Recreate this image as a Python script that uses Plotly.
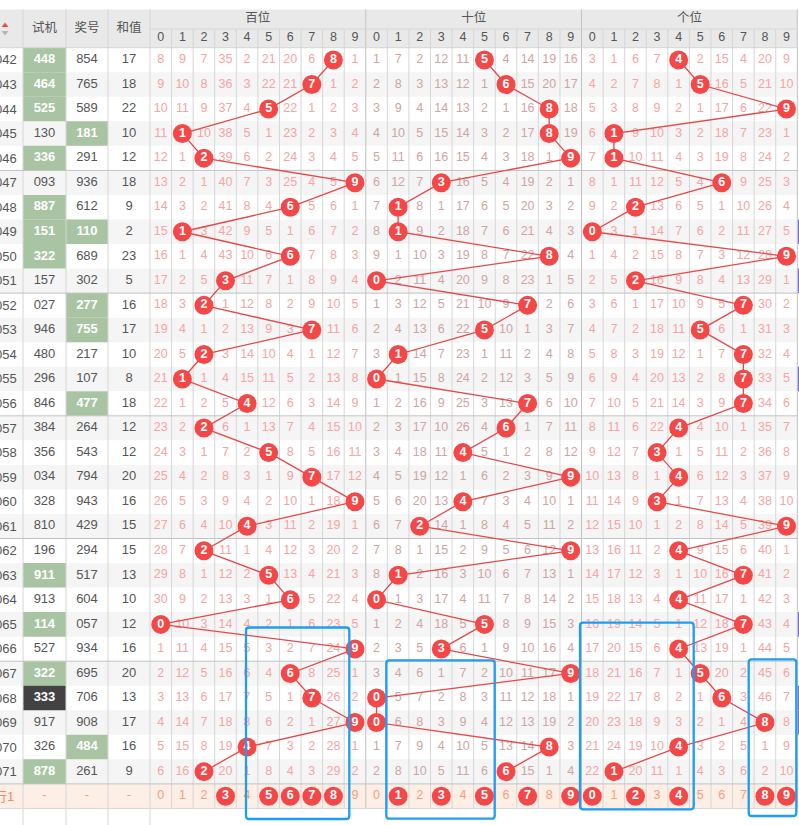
import plotly.graph_objects as go

# ---------------- data ----------------
periods = ["2025042", "2025043", "2025044", "2025045", "2025046", "2025047", "2025048", "2025049", "2025050", "2025051",
           "2025052", "2025053", "2025054", "2025055", "2025056", "2025057", "2025058", "2025059", "2025060", "2025061",
           "2025062", "2025063", "2025064", "2025065", "2025066", "2025067", "2025068", "2025069", "2025070", "2025071"]
shiji = ["448", "464", "525", "130", "336", "093", "887", "151", "322", "157",
         "027", "946", "480", "296", "846", "384", "356", "034", "328", "810",
         "196", "911", "913", "114", "527", "322", "333", "917", "326", "878"]
jianghao = ["854", "765", "589", "181", "291", "936", "612", "110", "689", "302",
            "277", "755", "217", "107", "477", "264", "543", "794", "943", "429",
            "294", "517", "604", "057", "934", "695", "706", "908", "484", "261"]
hezhi = [17, 18, 22, 10, 12, 18, 9, 2, 23, 5,
         16, 17, 10, 8, 18, 12, 12, 20, 16, 15,
         15, 13, 10, 12, 16, 20, 13, 17, 16, 9]
# g = 组三 highlight, d = 豹子 highlight
shiji_mark = ["g", "g", "g", "", "g", "", "g", "g", "g", "",
              "", "", "", "", "", "", "", "", "", "",
              "", "g", "", "g", "", "g", "d", "", "", "g"]
jiang_mark = ["", "", "", "g", "", "", "", "g", "", "",
              "g", "g", "", "", "g", "", "", "", "", "",
              "", "", "", "", "", "", "", "", "g", ""]

# omission values per row (0 = drawn this period)
bai_rows = [
    "8 9 7 35 2 21 20 6 0 1", "9 10 8 36 3 22 21 0 1 2", "10 11 9 37 4 0 22 1 2 3",
    "11 0 10 38 5 1 23 2 3 4", "12 1 0 39 6 2 24 3 4 5", "13 2 1 40 7 3 25 4 5 0",
    "14 3 2 41 8 4 0 5 6 1", "15 0 3 42 9 5 1 6 7 2", "16 1 4 43 10 6 0 7 8 3",
    "17 2 5 0 11 7 1 8 9 4", "18 3 0 1 12 8 2 9 10 5", "19 4 1 2 13 9 3 0 11 6",
    "20 5 0 3 14 10 4 1 12 7", "21 0 1 4 15 11 5 2 13 8", "22 1 2 5 0 12 6 3 14 9",
    "23 2 0 6 1 13 7 4 15 10", "24 3 1 7 2 0 8 5 16 11", "25 4 2 8 3 1 9 0 17 12",
    "26 5 3 9 4 2 10 1 18 0", "27 6 4 10 0 3 11 2 19 1", "28 7 0 11 1 4 12 3 20 2",
    "29 8 1 12 2 0 13 4 21 3", "30 9 2 13 3 1 0 5 22 4", "0 10 3 14 4 2 1 6 23 5",
    "1 11 4 15 5 3 2 7 24 0", "2 12 5 16 6 4 0 8 25 1", "3 13 6 17 7 5 1 0 26 2",
    "4 14 7 18 8 6 2 1 27 0", "5 15 8 19 0 7 3 2 28 1", "6 16 0 20 1 8 4 3 29 2",
]
shi_rows = [
    "1 7 2 12 11 0 4 14 19 16", "2 8 3 13 12 1 0 15 20 17", "3 9 4 14 13 2 1 16 0 18",
    "4 10 5 15 14 3 2 17 0 19", "5 11 6 16 15 4 3 18 1 0", "6 12 7 0 16 5 4 19 2 1",
    "7 0 8 1 17 6 5 20 3 2", "8 0 9 2 18 7 6 21 4 3", "9 1 10 3 19 8 7 22 0 4",
    "0 2 11 4 20 9 8 23 1 5", "1 3 12 5 21 10 9 0 2 6", "2 4 13 6 22 0 10 1 3 7",
    "3 0 14 7 23 1 11 2 4 8", "0 1 15 8 24 2 12 3 5 9", "1 2 16 9 25 3 13 0 6 10",
    "2 3 17 10 26 4 0 1 7 11", "3 4 18 11 0 5 1 2 8 12", "4 5 19 12 1 6 2 3 9 0",
    "5 6 20 13 0 7 3 4 10 1", "6 7 0 14 1 8 4 5 11 2", "7 8 1 15 2 9 5 6 12 0",
    "8 0 2 16 3 10 6 7 13 1", "0 1 3 17 4 11 7 8 14 2", "1 2 4 18 5 0 8 9 15 3",
    "2 3 5 0 6 1 9 10 16 4", "3 4 6 1 7 2 10 11 17 0", "0 5 7 2 8 3 11 12 18 1",
    "0 6 8 3 9 4 12 13 19 2", "1 7 9 4 10 5 13 14 0 3", "2 8 10 5 11 6 0 15 1 4",
]
ge_rows = [
    "3 1 6 7 0 2 15 4 20 9", "4 2 7 8 1 0 16 5 21 10", "5 3 8 9 2 1 17 6 22 0",
    "6 0 9 10 3 2 18 7 23 1", "7 0 10 11 4 3 19 8 24 2", "8 1 11 12 5 4 0 9 25 3",
    "9 2 0 13 6 5 1 10 26 4", "0 3 1 14 7 6 2 11 27 5", "1 4 2 15 8 7 3 12 28 0",
    "2 5 0 16 9 8 4 13 29 1", "3 6 1 17 10 9 5 0 30 2", "4 7 2 18 11 0 6 1 31 3",
    "5 8 3 19 12 1 7 0 32 4", "6 9 4 20 13 2 8 0 33 5", "7 10 5 21 14 3 9 0 34 6",
    "8 11 6 22 0 4 10 1 35 7", "9 12 7 0 1 5 11 2 36 8", "10 13 8 1 0 6 12 3 37 9",
    "11 14 9 0 1 7 13 4 38 10", "12 15 10 1 2 8 14 5 39 0", "13 16 11 2 0 9 15 6 40 1",
    "14 17 12 3 1 10 16 0 41 2", "15 18 13 4 0 11 17 1 42 3", "16 19 14 5 1 12 18 0 43 4",
    "17 20 15 6 0 13 19 1 44 5", "18 21 16 7 1 0 20 2 45 6", "19 22 17 8 2 1 0 3 46 7",
    "20 23 18 9 3 2 1 4 0 8", "21 24 19 10 0 3 2 5 1 9", "22 0 20 11 1 4 3 6 2 10",
]
group_names = ["百位", "十位", "个位"]
digit_labels = ["0", "1", "2", "3", "4", "5", "6", "7", "8", "9"]
summary_label = "行1"
summary_hits = [[3, 5, 6, 7, 8], [1, 3, 5, 7, 9], [0, 2, 4, 8, 9]]
side_marks = [7, 9, 13, 23, 26, 27]  # rows with purple edge marks

# ---------------- layout constants ----------------
W, H = 799, 825
FONT = "Liberation Sans, Arial, Noto Sans CJK SC, sans-serif"
HEAD_TOP, HEAD_MID, Y0 = 9.5, 29.0, 47.7
RH = 24.54
LEFT_EDGES = [23.0, 66.0, 108.0, 150.0]
X0 = 150.0
CW = (797.3 - 150.0) / 30
NROW = len(periods)
Y_SUM_TOP = Y0 + NROW * RH
Y_SUM_BOT = Y_SUM_TOP + RH

C_HEAD_BG = "#e9e9e9"
C_HEAD_TXT = "#555555"
C_STRIPE = "#f5f5f5"
C_GRID = "#d6d6d6"
C_SEP = "#c2c2c2"
C_GREEN = "#a8c4a2"
C_DARK = "#424242"
C_TXT = "#555555"
C_OMIT = ["#f6a4a4", "#cfa4a4", "#f6a4a4"]
C_BALL = "#f44848"
C_LINE = "#e54848"
C_SUM_BG = "#fdeee6"
C_SUM_TXT = "#f3a07e"
C_BLUE = "#1e9df2"
C_PURPLE = "#7a6cf0"


def cx(g, d):
    return X0 + (g * 10 + d + 0.5) * CW


def cy(i):
    return Y0 + (i + 0.5) * RH


shapes = []


def rect(x0, y0, x1, y1, color, layer="below"):
    shapes.append(dict(type="rect", x0=x0, y0=y0, x1=x1, y1=y1, fillcolor=color,
                       line=dict(width=0), layer=layer))


def line(x0, y0, x1, y1, color, width=1, layer="below"):
    shapes.append(dict(type="line", x0=x0, y0=y0, x1=x1, y1=y1,
                       line=dict(color=color, width=width), layer=layer))


# header background
rect(-5, HEAD_TOP, 797.3, Y0, C_HEAD_BG)
# row stripes
for i in range(NROW):
    if i % 2 == 1:
        rect(-5, Y0 + i * RH, 797.3, Y0 + (i + 1) * RH, C_STRIPE)
# summary row
rect(-5, Y_SUM_TOP, 797.3, Y_SUM_BOT, C_SUM_BG)
# highlighted cells
for i in range(NROW):
    if shiji_mark[i]:
        rect(LEFT_EDGES[0], Y0 + i * RH, LEFT_EDGES[1], Y0 + (i + 1) * RH,
             C_GREEN if shiji_mark[i] == "g" else C_DARK)
    if jiang_mark[i]:
        rect(LEFT_EDGES[1], Y0 + i * RH, LEFT_EDGES[2], Y0 + (i + 1) * RH, C_GREEN)
# purple edge marks
for i in side_marks:
    rect(797.6, Y0 + i * RH, 800, Y0 + (i + 1) * RH, C_PURPLE)

# grid lines
for x in LEFT_EDGES:
    line(x, HEAD_TOP, x, H + 2, C_GRID)
for k in range(1, 31):
    x = X0 + k * CW
    if k % 10 == 0:
        line(x, HEAD_TOP, x, Y_SUM_BOT, C_SEP)
    else:
        line(x, HEAD_MID, x, Y_SUM_BOT, C_GRID)
line(X0, HEAD_MID, X0 + 30 * CW, HEAD_MID, C_GRID)
line(-5, Y0, X0 + 30 * CW, Y0, C_GRID)
for k in range(5, NROW + 1, 5):
    line(-5, Y0 + k * RH, X0 + 30 * CW, Y0 + k * RH, C_SEP)
line(-5, Y_SUM_BOT, X0 + 30 * CW, Y_SUM_BOT, C_GRID)

# blue hand-drawn boxes (rounded rectangles)


def rbox(x0, y0, x1, y1, r=3):
    p = (f"M{x0+r},{y0} L{x1-r},{y0} Q{x1},{y0} {x1},{y0+r} L{x1},{y1-r} "
         f"Q{x1},{y1} {x1-r},{y1} L{x0+r},{y1} Q{x0},{y1} {x0},{y1-r} "
         f"L{x0},{y0+r} Q{x0},{y0} {x0+r},{y0} Z")
    shapes.append(dict(type="path", path=p, line=dict(color=C_BLUE, width=2.3),
                       fillcolor="rgba(0,0,0,0)", layer="above"))


rbox(246.0, 627.5, 349.3, 819.0)
rbox(386.3, 660.3, 494.7, 818.7)
rbox(580.0, 622.7, 693.7, 809.3)
rbox(748.7, 659.3, 796.3, 816.0)

fig = go.Figure()

# ---- header texts
hx, hy, ht = [], [], []
for name, c in zip(["试机", "奖号", "和值"], [(23 + 66) / 2, (66 + 108) / 2, (108 + 150) / 2]):
    hx.append(c); hy.append((HEAD_TOP + Y0) / 2); ht.append(name)
for g, name in enumerate(group_names):
    hx.append(X0 + (g * 10 + 5) * CW); hy.append((HEAD_TOP + HEAD_MID) / 2); ht.append(name)
    for d in range(10):
        hx.append(cx(g, d)); hy.append((HEAD_MID + Y0) / 2); ht.append(digit_labels[d])
fig.add_trace(go.Scatter(x=hx, y=hy, text=ht, mode="text", textposition="middle center",
                         textfont=dict(family=FONT, size=12.5, color=C_HEAD_TXT), hoverinfo="skip"))

# sort icon
fig.add_trace(go.Scatter(x=[5.0], y=[25.5], mode="markers",
                         marker=dict(symbol="triangle-up", size=6, color="#e8504f"), hoverinfo="skip"))
fig.add_trace(go.Scatter(x=[5.0], y=[32.5], mode="markers",
                         marker=dict(symbol="triangle-down", size=6, color="#b5b5b5"), hoverinfo="skip"))

# ---- left table texts
lx, ly, lt, lc, lw = [], [], [], [], []
for i in range(NROW):
    for col, (val, mark) in enumerate([(shiji[i], shiji_mark[i]), (jianghao[i], jiang_mark[i]),
                                       (str(hezhi[i]), "")]):
        lx.append((LEFT_EDGES[col] + LEFT_EDGES[col + 1]) / 2)
        ly.append(cy(i))
        lt.append(val)
        lc.append("#ffffff" if mark else C_TXT)
        lw.append("bold" if mark else "normal")
for col in range(3):
    lx.append((LEFT_EDGES[col] + LEFT_EDGES[col + 1]) / 2)
    ly.append((Y_SUM_TOP + Y_SUM_BOT) / 2)
    lt.append("-"); lc.append(C_SUM_TXT); lw.append("normal")
fig.add_trace(go.Scatter(x=lx, y=ly, text=lt, mode="text", textposition="middle center",
                         textfont=dict(family=FONT, size=13, color=lc, weight=lw), hoverinfo="skip"))

annotations = []
for i in range(NROW):
    annotations.append(dict(x=19.0, y=cy(i), text=periods[i], showarrow=False, xanchor="right",
                            yanchor="middle", font=dict(family=FONT, size=13, color=C_TXT)))
annotations.append(dict(x=15.5, y=(Y_SUM_TOP + Y_SUM_BOT) / 2, text=summary_label, showarrow=False,
                        xanchor="right", yanchor="middle", font=dict(family=FONT, size=13, color="#f08a6a")))

# ---- omission numbers, trend lines and balls
groups = [bai_rows, shi_rows, ge_rows]
for g, rows in enumerate(groups):
    vals = [[int(v) for v in r.split()] for r in rows]
    tx, ty, tt = [], [], []
    bx, by, bt = [], [], []
    for i, rv in enumerate(vals):
        for d, v in enumerate(rv):
            if v == 0:
                bx.append(cx(g, d)); by.append(cy(i)); bt.append(digit_labels[d])
            else:
                tx.append(cx(g, d)); ty.append(cy(i)); tt.append(str(v))
    fig.add_trace(go.Scatter(x=tx, y=ty, text=tt, mode="text", textposition="middle center",
                             textfont=dict(family=FONT, size=12.5, color=C_OMIT[g]), hoverinfo="skip"))
    fig.add_trace(go.Scatter(x=bx, y=by, mode="lines", line=dict(color=C_LINE, width=1.3),
                             hoverinfo="skip"))
    fig.add_trace(go.Scatter(x=bx, y=by, text=bt, mode="markers+text", textposition="middle center",
                             marker=dict(size=19, color=C_BALL, line=dict(width=0)),
                             textfont=dict(family=FONT, size=12.5, color="#ffffff", weight="bold"),
                             hoverinfo="skip"))

# ---- summary row
sx, sy, st = [], [], []
ox, oy, ot = [], [], []
for g in range(3):
    for d in range(10):
        if d in summary_hits[g]:
            ox.append(cx(g, d)); oy.append((Y_SUM_TOP + Y_SUM_BOT) / 2); ot.append(digit_labels[d])
        else:
            sx.append(cx(g, d)); sy.append((Y_SUM_TOP + Y_SUM_BOT) / 2); st.append(digit_labels[d])
fig.add_trace(go.Scatter(x=sx, y=sy, text=st, mode="text", textposition="middle center",
                         textfont=dict(family=FONT, size=12.5, color=C_SUM_TXT), hoverinfo="skip"))
fig.add_trace(go.Scatter(x=ox, y=oy, text=ot, mode="markers+text", textposition="middle center",
                         marker=dict(size=19, color=C_BALL, line=dict(width=0)),
                         textfont=dict(family=FONT, size=12.5, color="#ffffff", weight="bold"),
                         hoverinfo="skip"))

fig.update_layout(
    width=W, height=H, margin=dict(l=0, r=0, t=0, b=0),
    paper_bgcolor="white", plot_bgcolor="white", showlegend=False,
    xaxis=dict(range=[0, W], visible=False, fixedrange=True),
    yaxis=dict(range=[H, 0], visible=False, fixedrange=True),
    shapes=shapes, annotations=annotations,
)
fig.write_html("out.html", config={"displayModeBar": False},
               post_script="document.body.style.margin='0';document.body.style.overflow='hidden';")
